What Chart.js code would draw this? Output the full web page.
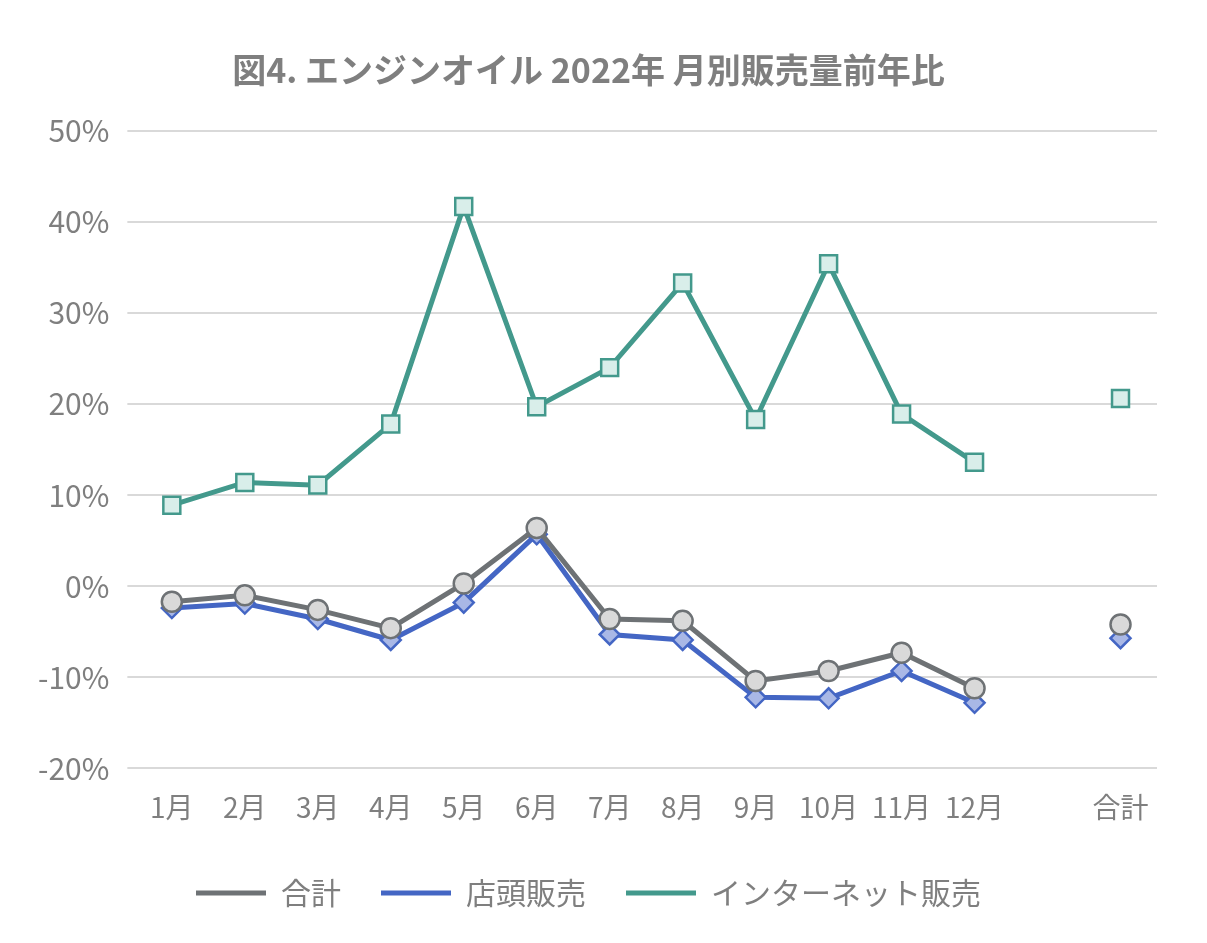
<!DOCTYPE html>
<html>
<head>
<meta charset="utf-8">
<script src="https://cdn.jsdelivr.net/npm/chart.js@4"></script>
<style>
  html, body { margin: 0; padding: 0; background: #fff; }
  #wrap { width: 1207px; height: 943px; position: relative; }
</style>
</head>
<body>
<div id="wrap"><canvas id="chart"></canvas></div>
<script>
// Categories (empty slot between 12月 and 合計)
const categories = ['1月', '2月', '3月', '4月', '5月', '6月', '7月', '8月', '9月', '10月', '11月', '12月', '', '合計'];

// Series values (%)
const totalValues = [-1.7, -1.0, -2.6, -4.6, 0.3, 6.4, -3.6, -3.8, -10.4, -9.3, -7.3, -11.2, null, -4.2];
const storeValues = [-2.4, -1.9, -3.6, -5.9, -1.8, 5.7, -5.3, -5.9, -12.2, -12.3, -9.3, -12.8, null, -5.7];
const netValues = [8.9, 11.4, 11.1, 17.8, 41.7, 19.7, 24.0, 33.3, 18.3, 35.4, 18.9, 13.6, null, 20.6];

const FONT = '"Noto Sans CJK JP", "Noto Sans", sans-serif';
const GRAY = '#7f7f7f';

const ctx = document.getElementById('chart').getContext('2d');
new Chart(ctx, {
    type: 'line',
    data: {
        labels: categories,
        datasets: [
            {
                label: '合計',
                data: totalValues,
                borderColor: '#6e7275',
                backgroundColor: '#d9d9d9',
                borderWidth: 5,
                pointStyle: 'circle',
                pointRadius: 10,
                pointBorderWidth: 2.5,
                spanGaps: false
            },
            {
                label: '店頭販売',
                data: storeValues,
                borderColor: '#4466c4',
                backgroundColor: '#a9b8e6',
                borderWidth: 5,
                pointStyle: 'rectRot',
                pointRadius: 10,
                pointBorderWidth: 2.5,
                spanGaps: false
            },
            {
                label: 'インターネット販売',
                data: netValues,
                borderColor: '#43998c',
                backgroundColor: '#d9eeea',
                borderWidth: 5,
                pointStyle: 'rect',
                pointRadius: 12,
                pointBorderWidth: 2.5,
                spanGaps: false
            }
        ]
    },
    options: {
        responsive: true,
        maintainAspectRatio: false,
        animation: false,
        layout: { padding: { left: 20, right: 50, top: 30, bottom: 25 } },
        plugins: {
            title: {
                display: true,
                text: '図4. エンジンオイル 2022年 月別販売量前年比',
                color: GRAY,
                font: { family: FONT, size: 34, weight: 'bold' },
                padding: { top: 20, bottom: 40 }
            },
            legend: {
                position: 'bottom',
                labels: {
                    color: GRAY,
                    font: { family: FONT, size: 30 },
                    boxWidth: 70,
                    boxHeight: 5,
                    padding: 40,
                    generateLabels: chart => chart.data.datasets.map((ds, i) => ({
                        text: ds.label,
                        fillStyle: ds.borderColor,
                        strokeStyle: ds.borderColor,
                        fontColor: GRAY,
                        lineWidth: 0,
                        datasetIndex: i
                    }))
                }
            },
            tooltip: { enabled: false }
        },
        scales: {
            x: {
                offset: true,
                grid: { display: false },
                border: { display: false },
                ticks: { color: GRAY, font: { family: FONT, size: 28 }, padding: 14, maxRotation: 0, autoSkip: false }
            },
            y: {
                min: -20,
                max: 50,
                border: { display: false },
                grid: { color: '#d9d9d9', lineWidth: 2 },
                ticks: {
                    stepSize: 10,
                    color: GRAY,
                    font: { family: FONT, size: 30 },
                    padding: 18,
                    callback: v => v + '%'
                }
            }
        }
    }
});
</script>
</body>
</html>
